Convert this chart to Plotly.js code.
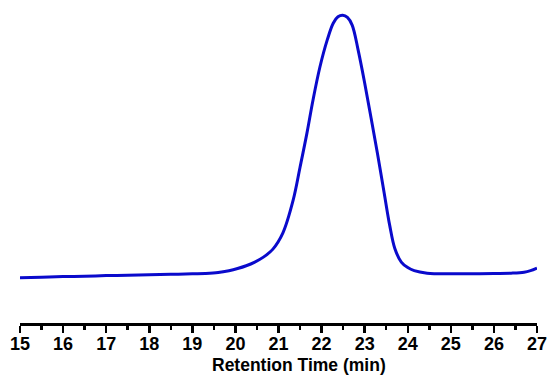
<!DOCTYPE html>
<html>
<head>
<meta charset="utf-8">
<script src="https://cdn.plot.ly/plotly-3.0.1.min.js"></script>
<style>html,body{margin:0;padding:0;background:#fff;}#chart{width:550px;height:378px;}</style>
</head>
<body>
<div id="chart"></div>
<script>
// Retention time (min)
var retentionTime = [15.0, 15.5, 16.0, 16.5, 17.0, 17.5, 18.0, 18.5, 19.0, 19.3, 19.6, 19.85, 20.05, 20.25, 20.45, 20.65, 20.87, 21.1, 21.34, 21.5, 21.66, 21.8, 21.96, 22.13, 22.27, 22.38, 22.49, 22.6, 22.71, 22.85, 23.0, 23.15, 23.3, 23.45, 23.58, 23.7, 23.85, 24.0, 24.15, 24.45, 25.0, 25.5, 26.0, 26.4, 26.7, 26.85, 27.0];
// Detector signal (normalized)
var signal = [0.147, 0.149, 0.151, 0.152, 0.154, 0.155, 0.157, 0.158, 0.160, 0.161, 0.164, 0.170, 0.177, 0.186, 0.198, 0.214, 0.240, 0.292, 0.399, 0.506, 0.617, 0.724, 0.831, 0.919, 0.974, 0.995, 1.0, 0.993, 0.968, 0.886, 0.780, 0.665, 0.548, 0.425, 0.318, 0.242, 0.198, 0.180, 0.170, 0.162, 0.160, 0.160, 0.161, 0.162, 0.165, 0.170, 0.178];
var tickValues = [15, 16, 17, 18, 19, 20, 21, 22, 23, 24, 25, 26, 27];
var xTitle = 'Retention Time (min)';

var trace = {
  x: retentionTime,
  y: signal,
  mode: 'lines',
  line: {color: '#0a0acc', width: 3, shape: 'spline', smoothing: 1},
  hoverinfo: 'skip'
};

var layout = {
  width: 550, height: 378,
  margin: {l: 20, r: 13, t: 6, b: 55},
  paper_bgcolor: '#ffffff', plot_bgcolor: '#ffffff',
  showlegend: false,
  xaxis: {
    range: [15, 27],
    tickmode: 'array', tickvals: tickValues, ticktext: tickValues.map(String),
    showgrid: false, zeroline: false,
    showline: true, linecolor: '#000', linewidth: 2.5,
    ticks: 'outside', ticklen: 7, tickwidth: 2.5, tickcolor: '#000',
    ticklabelstandoff: -4,
    minor: {dtick: 0.5, tick0: 15, ticks: 'outside', ticklen: 4, tickwidth: 2.5, tickcolor: '#000', showgrid: false},
    tickfont: {family: 'Liberation Sans, Arial, sans-serif', size: 18, color: '#000', weight: 'bold'},
    fixedrange: true
  },
  yaxis: {range: [0, 1.03], visible: false, fixedrange: true},
  annotations: [{
    text: xTitle, xref: 'paper', yref: 'paper',
    x: 0.5406, y: -0.134, xanchor: 'center', yanchor: 'middle', showarrow: false,
    font: {family: 'Liberation Sans, Arial, sans-serif', size: 17.5, color: '#000', weight: 'bold'}
  }]
};

Plotly.newPlot('chart', [trace], layout, {staticPlot: true, displayModeBar: false});
</script>
</body>
</html>
